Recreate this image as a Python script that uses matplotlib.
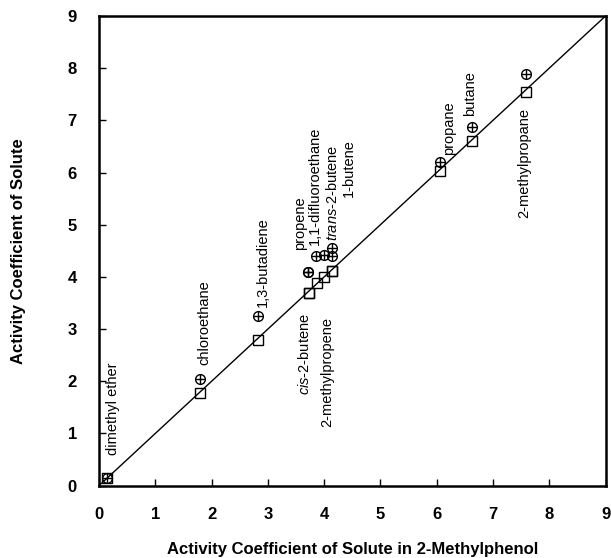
import matplotlib
matplotlib.use('Agg')
import matplotlib.pyplot as plt

plt.rcParams['font.family'] = ['Liberation Sans', 'DejaVu Sans']
plt.rcParams['mathtext.fontset'] = 'custom'
plt.rcParams['mathtext.rm'] = 'Liberation Sans'
plt.rcParams['mathtext.it'] = 'Liberation Sans:italic'

# activity coefficient in 2-methylphenol (x) and solute values
solutes = ['dimethyl ether', 'chloroethane', '1,3-butadiene', 'cis-2-butene',
           'propene', '2-methylpropene', '1,1-difluoroethane', 'trans-2-butene',
           '1-butene', 'propane', 'butane', '2-methylpropane']
x_sq = [0.15, 1.79, 2.83, 3.73, 3.73, 3.87, 4.00, 4.14, 4.14, 6.06, 6.62, 7.58]
y_sq = [0.15, 1.77, 2.79, 3.70, 3.70, 3.88, 4.00, 4.12, 4.12, 6.03, 6.60, 7.55]
x_ci = [0.15, 1.79, 2.83, 3.71, 3.71, 3.85, 4.00, 4.14, 4.14, 6.06, 6.62, 7.58]
y_ci = [0.15, 2.05, 3.25, 4.09, 4.09, 4.40, 4.42, 4.41, 4.55, 6.20, 6.87, 7.88]

# label text and placement (x, y, vertical anchor)
label_text = ['dimethyl ether', 'chloroethane', '1,3-butadiene',
              r'$\mathit{cis}$-2-butene', 'propene', '2-methylpropene',
              '1,1-difluoroethane', r'$\mathit{trans}$-2-butene', '1-butene',
              'propane', 'butane', '2-methylpropane']
label_pos = [(0.25, 0.59, 'bottom'), (1.865, 2.31, 'bottom'), (2.91, 3.42, 'bottom'),
             (3.66, 3.31, 'top'), (3.57, 4.52, 'bottom'), (4.05, 3.23, 'top'),
             (3.83, 4.61, 'bottom'), (4.15, 4.68, 'bottom'), (4.44, 5.53, 'bottom'),
             (6.22, 6.33, 'bottom'), (6.59, 7.08, 'bottom'), (7.55, 7.24, 'top')]

fig = plt.figure(figsize=(6.11, 5.58), dpi=100)
ax = fig.add_axes([0.162, 0.1296, 0.829, 0.8417])

ax.plot([0, 9], [0, 9], color='k', lw=1)
ax.plot(x_sq, y_sq, 's', mfc='none', mec='k', ms=7, mew=1)
ax.plot(x_ci, y_ci, 'o', mfc='none', mec='k', ms=7, mew=1)
ax.plot(x_ci, y_ci, '+', color='k', ms=7, mew=1)

for txt, (tx, ty, va) in zip(label_text, label_pos):
    ax.text(tx, ty, txt, rotation=90, ha='center', va=va, fontsize=10.5)

ax.set_xlim(0, 9)
ax.set_ylim(0, 9)
ax.set_xticks(range(10))
ax.set_yticks(range(10))
ax.tick_params(direction='in', length=5, width=1)
ax.tick_params(axis='x', pad=15)
ax.tick_params(axis='y', pad=16)
for lab in ax.get_xticklabels() + ax.get_yticklabels():
    lab.set_fontweight('bold')
    lab.set_fontsize(12)
for s in ax.spines.values():
    s.set_linewidth(1.8)

ax.set_xlabel('Activity Coefficient of Solute in 2-Methylphenol',
              fontsize=12, fontweight='bold', labelpad=15)
ax.set_ylabel('Activity Coefficient of Solute', fontsize=12,
              fontweight='bold', labelpad=30)

fig.savefig('out.png', dpi=100)
